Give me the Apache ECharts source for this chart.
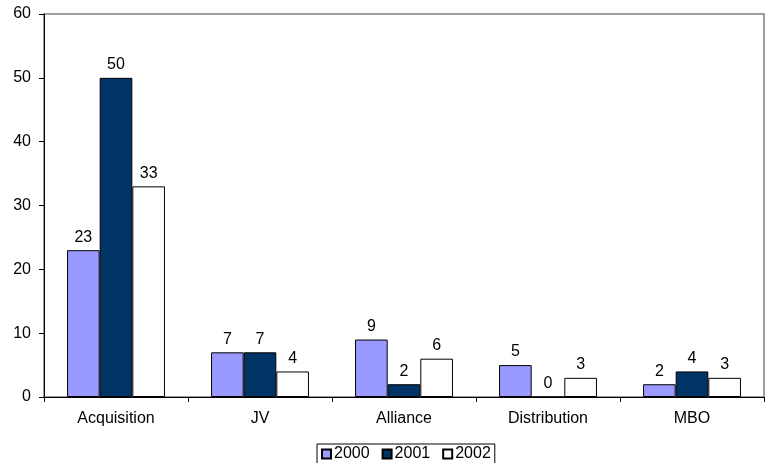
<!DOCTYPE html>
<html>
<head>
<meta charset="utf-8">
<script src="https://cdn.jsdelivr.net/npm/echarts@6/dist/echarts.min.js"></script>
<style>
  html, body { margin: 0; padding: 0; background: #fff; }
  #chart { width: 769px; height: 463px; }
</style>
</head>
<body>
<div id="chart"></div>
<script>
// Deal types and counts per year
const categories = ['Acquisition', 'JV', 'Alliance', 'Distribution', 'MBO'];
const years = ['2000', '2001', '2002'];
const values2000 = [23, 7, 9, 5, 2];
const values2001 = [50, 7, 2, 0, 4];
const values2002 = [33, 4, 6, 3, 3];
const yTicks = { min: 0, max: 60, interval: 10 };

const colors = ['#9999FF', '#003366', '#FFFFFF'];
const seriesData = [values2000, values2001, values2002];
const font = 'Liberation Sans, Arial, sans-serif';

const chart = echarts.init(document.getElementById('chart'), null, { renderer: 'canvas' });

chart.setOption({
  animation: false,
  backgroundColor: '#fff',
  grid: {
    left: 44, right: 5, top: 14, bottom: 66,
    show: true, borderColor: '#808080', borderWidth: 1.5, backgroundColor: 'transparent'
  },
  legend: {
    bottom: -1,
    left: 317,
    data: years,
    itemWidth: 9,
    itemHeight: 9,
    itemGap: 12,
    icon: 'rect',
    borderColor: '#000',
    borderWidth: 1,
    padding: [2, 4, 2, 4],
    textStyle: { fontFamily: font, fontSize: 16, color: '#000', padding: [0, 0, 0, -2] }
  },
  xAxis: {
    type: 'category',
    data: categories,
    axisLine: { lineStyle: { color: '#000', width: 1 } },
    axisTick: { show: true, length: 5, lineStyle: { color: '#000' } },
    axisLabel: { fontFamily: font, fontSize: 16, color: '#000', margin: 14 }
  },
  yAxis: {
    type: 'value',
    min: yTicks.min, max: yTicks.max, interval: yTicks.interval,
    axisLine: { show: true, lineStyle: { color: '#000', width: 1 } },
    axisTick: { show: true, length: 5, lineStyle: { color: '#000' } },
    splitLine: { show: false },
    axisLabel: { fontFamily: font, fontSize: 16, color: '#000', margin: 13 }
  },
  series: years.map((y, i) => ({
    name: y,
    type: 'bar',
    data: seriesData[i],
    barGap: '0%',
    barCategoryGap: '32%',
    itemStyle: { color: colors[i], borderColor: '#000', borderWidth: 1 },
    label: {
      show: true, position: 'top', distance: 5,
      fontFamily: font, fontSize: 16, color: '#000'
    }
  }))
});
</script>
</body>
</html>
